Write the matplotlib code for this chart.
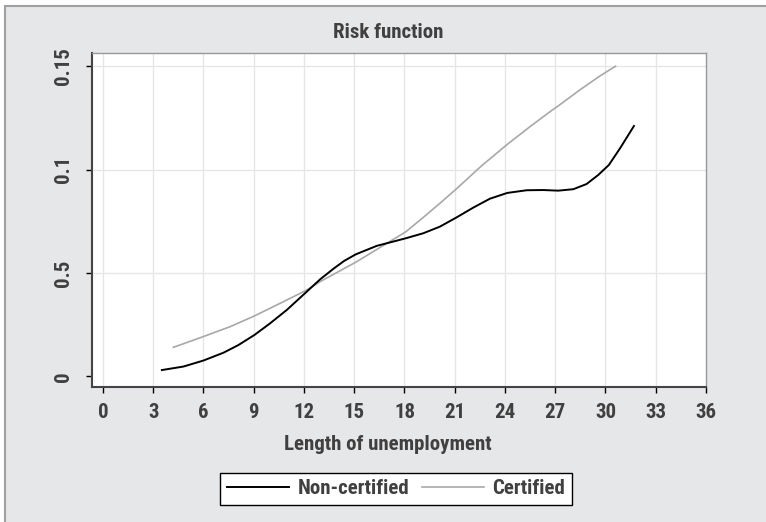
import matplotlib
matplotlib.use("Agg")
import matplotlib.pyplot as plt
from matplotlib.patches import Rectangle

# values
months_non = [3.52, 4.81, 6.0, 7.2, 8.09, 9.05, 9.98, 10.98, 12.07, 12.97, 13.76,
              14.4, 15.1, 16.35, 17.16, 18.1, 19.13, 20.12, 21.12, 22.11, 23.1, 24.14,
              25.3, 26.29, 27.18, 28.08, 28.87, 29.57, 30.2, 30.87, 31.7]
risk_non = [0.0030, 0.0047, 0.0076, 0.0114, 0.0151, 0.0200, 0.0256, 0.0321, 0.0402,
            0.0469, 0.0520, 0.0558, 0.0590, 0.0631, 0.0648, 0.0668, 0.0692, 0.0724,
            0.0769, 0.0816, 0.0859, 0.0887, 0.0900, 0.0901, 0.0898, 0.0905, 0.0930,
            0.0974, 0.1022, 0.1103, 0.1211]

months_cert = [4.21, 6.0, 7.6, 9.05, 10.78, 12.07, 12.97, 15.1, 16.95, 18.1, 19.13,
               20.12, 21.12, 22.6, 24.14, 25.5, 26.79, 27.18, 28.48, 29.67, 30.6]
risk_cert = [0.0140, 0.0192, 0.0240, 0.0292, 0.0361, 0.0413, 0.0458, 0.0552, 0.0643,
             0.0700, 0.0769, 0.0837, 0.0908, 0.1018, 0.1122, 0.1208, 0.1286, 0.1308,
             0.1386, 0.1453, 0.1500]

x_ticks = list(range(0, 37, 3))
y_ticks = [0, 0.05, 0.1, 0.15]
y_ticklabels = ["0", "0.5", "0.1", "0.15"]  # as printed in the original

plt.rcParams['font.family'] = ['Roboto Condensed', 'DejaVu Sans']
plt.rcParams['font.weight'] = 'bold'
txt = '#404040'
bg = '#e6e7e9'
fs = 15

fig = plt.figure(figsize=(7.66, 5.22), dpi=100, facecolor='white')
frame = Rectangle((5 / 766, -0.05), 1.1, 1 - 6 / 522 + 0.05,
                  transform=fig.transFigure, facecolor=bg,
                  edgecolor='#a0a0a0', linewidth=1.5, zorder=-5)
fig.add_artist(frame)

ax = fig.add_axes([92 / 766, 1 - 387 / 522, 614 / 766, 334 / 522])
ax.set_facecolor('white')

ax.plot(months_non, risk_non, color='black', lw=1.4, label='Non-certified', zorder=3)
ax.plot(months_cert, risk_cert, color='#a8a8a8', lw=1.2, label='Certified', zorder=2)

ax.set_xlim(-0.65, 36)
ax.set_ylim(-0.0052, 0.1564)
ax.set_xticks(x_ticks)
ax.set_yticks(y_ticks)
ax.set_yticklabels(y_ticklabels, rotation=90, va='center')

for v in x_ticks[:-1]:
    ax.axvline(v, color='#e6e6e6', lw=1, zorder=1)
for v in y_ticks[1:]:
    ax.axhline(v, color='#e6e6e6', lw=1, zorder=1)

ax.tick_params(axis='both', length=4.5, width=1, color='black',
               labelsize=fs, labelcolor=txt)
ax.tick_params(axis='x', pad=7)
ax.tick_params(axis='y', pad=9)

for s in ['left', 'bottom']:
    ax.spines[s].set_color('#444444')
    ax.spines[s].set_linewidth(1.5)
for s in ['top', 'right']:
    ax.spines[s].set_color('#999999')
    ax.spines[s].set_linewidth(1)

fig.text(388 / 766, 1 - 33 / 522, 'Risk function', ha='center', va='center',
         fontsize=fs, color=txt, fontweight='bold')
fig.text(388 / 766, 1 - 445 / 522, 'Length of unemployment', ha='center', va='center',
         fontsize=fs, color=txt, fontweight='bold')

leg = fig.legend(loc='center', bbox_to_anchor=(396 / 766, 1 - 489 / 522), ncol=2,
                 fontsize=fs, frameon=True, fancybox=False, handlelength=3.0,
                 handletextpad=0.4, columnspacing=0.6, borderpad=0.3,
                 borderaxespad=0)
leg.get_frame().set_edgecolor('black')
leg.get_frame().set_facecolor('white')
leg.get_frame().set_alpha(1)
leg.get_frame().set_linewidth(1)
for t in leg.get_texts():
    t.set_color(txt)

fig.savefig('out.png', dpi=100, facecolor=fig.get_facecolor())
